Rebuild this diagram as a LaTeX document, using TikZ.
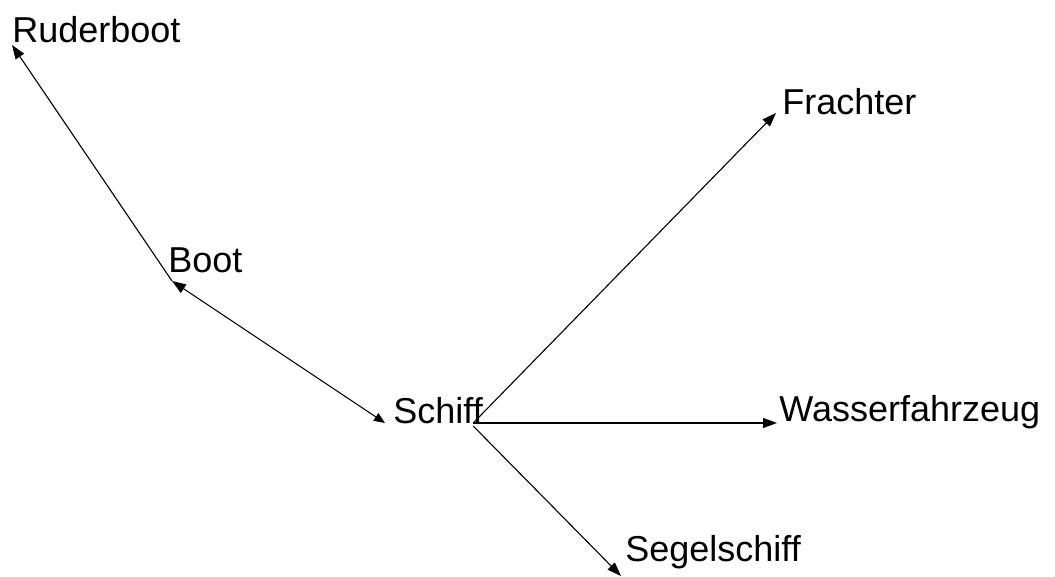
\documentclass[tikz,border=0pt]{standalone}
\usepackage{fontspec}
\setmainfont{Liberation Sans}
\usetikzlibrary{arrows.meta,calc}
\begin{document}
\begin{tikzpicture}[x=0.5pt,y=-0.5pt,
  word/.style={inner sep=0pt,anchor=base west,font=\fontsize{18pt}{21pt}\selectfont},
  link/.style={line width=0.55pt,-{Triangle[length=7pt,width=5pt]}},
  biLink/.style={line width=0.55pt,{Triangle[length=7pt,width=5pt]}-{Triangle[length=5.5pt,width=4.5pt]}}]
  \useasboundingbox (0,0) rectangle (1055,577);
  % words of the net
  \node[word] (ruder) at (12,43) {Ruderboot};
  \node[word] (boot) at (168,273) {Boot};
  \node[word] (schiff) at (393,423) {Schiff};
  \node[word] (frachter) at (782,115) {Frachter};
  \node[word] (wasser) at (779,421) {Wasserfahrzeug};
  \node[word] (segel) at (625,561) {Segelschiff};
  % hub points at the ends of the words
  \coordinate (bootEnd) at ($(boot.base west)+(4,8)$);
  \coordinate (schiffIn) at ($(schiff.base west)+(-8,0)$);
  \coordinate (schiffOut) at ($(schiff.base east)+(-10,0)$);
  % connectors
  \draw[link] (bootEnd) -- ($(ruder.base west)+(0,2)$);
  \draw[biLink] (bootEnd) -- (schiffIn);
  \draw[link] (schiffOut) -- ($(frachter.base west)+(-6,-2)$);
  \draw[link] (schiffOut) -- ($(wasser.base west)+(-2,2)$);
  \draw[link] ($(schiffOut)+(0,3)$) -- ($(segel.base west)+(-4,15)$);
\end{tikzpicture}
\end{document}
